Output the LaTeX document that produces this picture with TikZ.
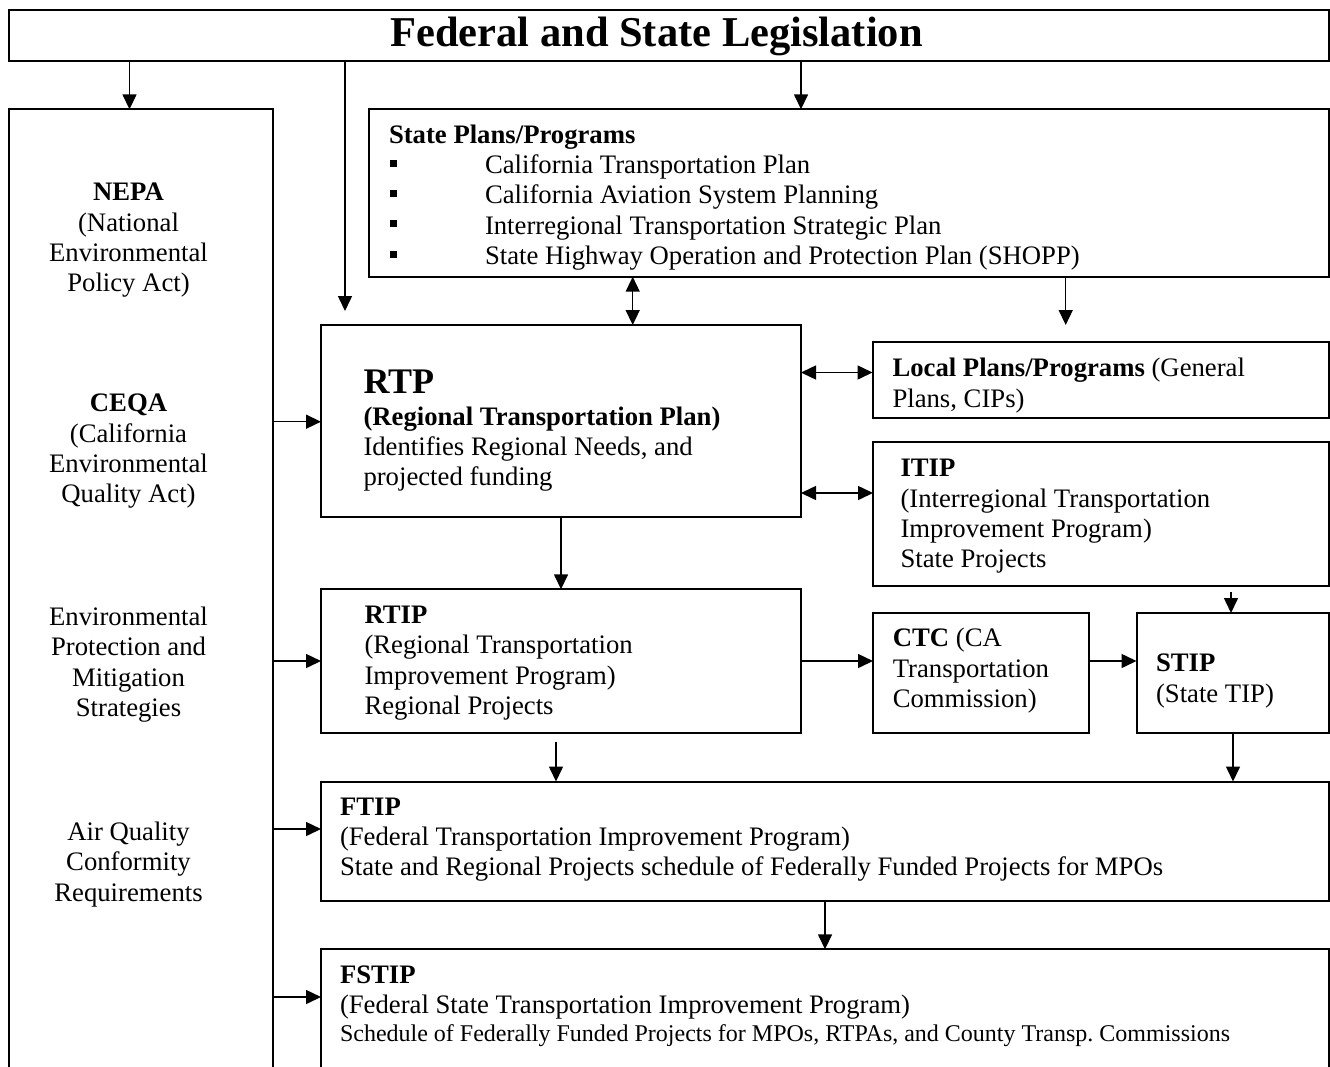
\documentclass[tikz,border=0pt]{standalone}
\usepackage{fontspec}
\setmainfont{Liberation Serif}
\usetikzlibrary{arrows.meta}
\begin{document}
\begin{tikzpicture}[x=1pt,y=-1pt,
  box/.style={draw, line width=2pt, inner sep=0pt, outer sep=0pt, rectangle},
  arr/.style={line width=1.5pt, -{Triangle[length=15pt,width=14pt]}},
  darr/.style={line width=1.5pt, {Triangle[length=15pt,width=14pt]}-{Triangle[length=15pt,width=14pt]}},
  fixsp/.style={execute at begin node={\frenchspacing\spaceskip=\fontdimen2\font\relax\xspaceskip=\fontdimen2\font\relax}},
  txt/.style={inner sep=0pt, outer sep=0pt, anchor=base west, align=left, text width=1000pt, font=\fontsize{26.7}{30.4}\selectfont, fixsp},
  ctxt/.style={inner sep=0pt, outer sep=0pt, anchor=base, align=center, text width=260pt, font=\fontsize{26.7}{30.4}\selectfont, fixsp},
  bul/.style={fill=black}
]
\useasboundingbox (0,0) rectangle (1330,1066);
\clip (0,0) rectangle (1330,1066);

% boxes
\node[box, minimum width=1319.5pt, minimum height=51.5pt] (fed) at (668.75,35.25) {};
\node[box, minimum width=264pt, minimum height=980.7pt] (env) at (141,599.65) {};
\node[box, minimum width=959.5pt, minimum height=167.4pt] (spp) at (848.75,193) {};
\node[box, minimum width=480pt, minimum height=192pt] (rtp) at (561,421) {};
\node[box, minimum width=456pt, minimum height=75.7pt] (local) at (1100.5,379.85) {};
\node[box, minimum width=455.5pt, minimum height=143.7pt] (itip) at (1100.75,514.15) {};
\node[box, minimum width=480pt, minimum height=143.7pt] (rtip) at (561,661.15) {};
\node[box, minimum width=216pt, minimum height=120.3pt] (ctc) at (981,673.15) {};
\node[box, minimum width=192pt, minimum height=120.3pt] (stip) at (1232.5,673.15) {};
\node[box, minimum width=1007.5pt, minimum height=119.5pt] (ftip) at (824.75,841.25) {};
\node[box, minimum width=1007.5pt, minimum height=140.7pt] (fstip) at (824.75,1019.65) {};

% texts
\node[inner sep=0pt, anchor=base, font=\fontsize{42.5}{48}\selectfont\bfseries] (tfed) at (656.5,46) {Federal and State Legislation};

\node[ctxt] (tnepa) at (128.5,200.7) {\textbf{NEPA}\\(National\\Environmental\\Policy Act)};
\node[ctxt] (tceqa) at (128.5,411.7) {\textbf{CEQA}\\(California\\Environmental\\Quality Act)};
\node[ctxt] (tenvp) at (128.5,625.5) {Environmental\\Protection and\\Mitigation\\Strategies};
\node[ctxt] (taq) at (128.5,840.5) {Air Quality\\Conformity\\Requirements};

\node[txt] (tspph) at (389,143.3) {\textbf{State Plans/Programs}};
\node[txt] (tspp) at (485,173.3) {California Transportation Plan\\California Aviation System Planning\\Interregional Transportation Strategic Plan\\State Highway Operation and Protection Plan (SHOPP)};
\foreach \yy in {173.3,203.7,234.1,264.5} {
  \fill[bul] (390,\yy-13.8) rectangle (397,\yy-6.8);
}

\node[txt, font=\fontsize{36}{40}\selectfont\bfseries] (trtph) at (363.5,393.3) {RTP};
\node[txt] (trtp) at (363.5,425) {\textbf{(Regional Transportation Plan)}\\Identifies Regional Needs, and\\projected funding};

\node[txt] (tlocal) at (892.5,376.7) {\textbf{Local Plans/Programs} (General\\Plans, CIPs)};
\node[txt] (titip) at (900.5,476.7) {\textbf{ITIP}\\(Interregional Transportation\\Improvement Program)\\State Projects};
\node[txt] (trtip) at (364.5,623.3) {\textbf{RTIP}\\(Regional Transportation\\Improvement Program)\\Regional Projects};
\node[txt] (tctc) at (892.8,646.7) {\textbf{CTC} (CA\\Transportation\\Commission)};
\node[txt] (tstip) at (1156,671.7) {\textbf{STIP}\\(State TIP)};
\node[txt] (tftip) at (340,815) {\textbf{FTIP}\\(Federal Transportation Improvement Program)\\State and Regional Projects schedule of Federally Funded Projects for MPOs};
\node[txt] (tfstip) at (340,983.3) {\textbf{FSTIP}\\(Federal State Transportation Improvement Program)};
\node[txt, font=\fontsize{24}{27}\selectfont] (tfstips) at (340,1041) {Schedule of Federally Funded Projects for MPOs, RTPAs, and County Transp. Commissions};

% connector coordinates
\coordinate (xa) at (129.5,0);
\coordinate (rtpin) at (345,311);
\coordinate (xc) at (801,0);
\coordinate (xd) at (632.7,0);
\coordinate (locin) at (1065.7,325);
\coordinate (xf) at (561,0);
\coordinate (itipout) at (1231,592);
\coordinate (rtipout) at (556,741.5);
\coordinate (xi) at (1233,0);
\coordinate (xj) at (825,0);
\coordinate (r1) at (0,421.7);
\coordinate (r2) at (0,661);
\coordinate (r3) at (0,829);
\coordinate (r4) at (0,997);
\coordinate (r5) at (0,372.5);
\coordinate (r6) at (0,493);

% connectors
\draw[arr] (fed.south -| xa) -- (env.north -| xa);
\draw[arr] (fed.south -| rtpin) -- (rtpin);
\draw[arr] (fed.south -| xc) -- (spp.north -| xc);
\draw[darr] (spp.south -| xd) -- (rtp.north -| xd);
\draw[arr] (spp.south -| locin) -- (locin);
\draw[arr] (env.east |- r1) -- (rtp.west |- r1);
\draw[arr] (env.east |- r2) -- (rtip.west |- r2);
\draw[arr] (env.east |- r3) -- (ftip.west |- r3);
\draw[arr] (env.east |- r4) -- (fstip.west |- r4);
\draw[darr] (rtp.east |- r5) -- (local.west |- r5);
\draw[darr] (rtp.east |- r6) -- (itip.west |- r6);
\draw[arr] (rtp.south -| xf) -- (rtip.north -| xf);
\draw[arr] (rtip.east |- r2) -- (ctc.west |- r2);
\draw[arr] (ctc.east |- r2) -- (stip.west |- r2);
\draw[arr] (itipout) -- (stip.north -| itipout);
\draw[arr] (rtipout) -- (ftip.north -| rtipout);
\draw[arr] (stip.south -| xi) -- (ftip.north -| xi);
\draw[arr] (ftip.south -| xj) -- (fstip.north -| xj);
\end{tikzpicture}
\end{document}
